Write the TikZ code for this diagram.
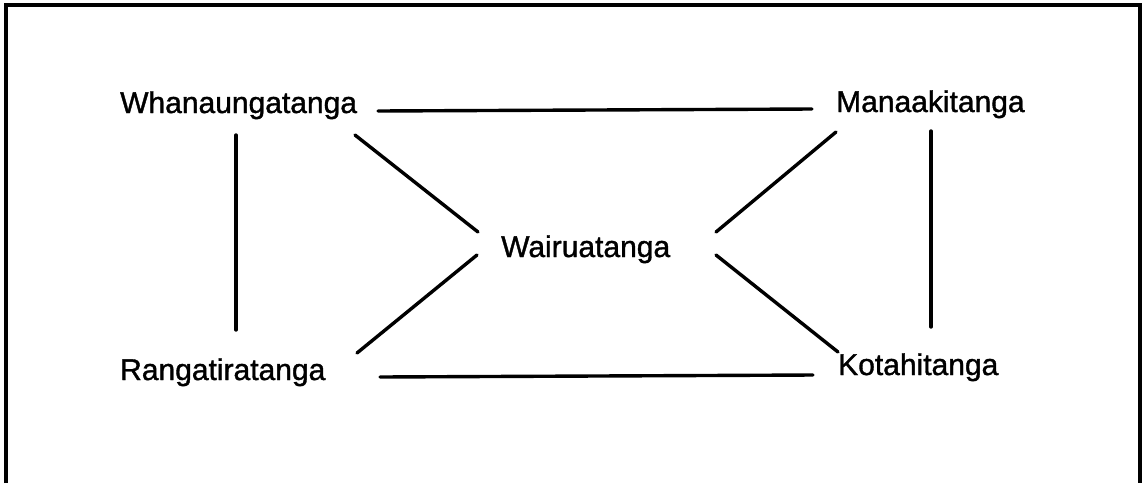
\documentclass[tikz,border=0pt]{standalone}
\usepackage{fontspec}
\setmainfont{Liberation Sans}
\newfontfamily\termfont[FakeBold=1.2]{Liberation Sans}
\begin{document}
\begin{tikzpicture}[x=1pt,y=-1pt,
  term/.style={font=\termfont\fontsize{30}{36}\selectfont, inner sep=0pt, anchor=base west},
  link/.style={line width=3.4pt, line cap=round},
  frame/.style={line width=3.2pt}]
\useasboundingbox (0,0) rectangle (1142,483);
% open frame: top edge and two sides
\draw[frame] (6,483) -- (6,5) -- (1140,5) -- (1140,483);

% the five values
\node[term] (wh) at (120,113) {Whanaungatanga};
\node[term] (ma) at (836,112) {Manaakitanga};
\node[term] (wa) at (501,257) {Wairuatanga};
\node[term] (ra) at (120,380) {Rangatiratanga};
\node[term] (ko) at (838,375) {Kotahitanga};

% connector end points
\coordinate (whE) at (378,111);
\coordinate (maW) at (812,109);
\coordinate (whS) at (236,135);
\coordinate (raN) at (236,330);
\coordinate (maS) at (931,131);
\coordinate (koN) at (931,327);
\coordinate (raE) at (380,377);
\coordinate (koW) at (813,375);
\coordinate (whSE) at (355,135);
\coordinate (waNW) at (478,232);
\coordinate (raNE) at (357,353);
\coordinate (waSW) at (477,255);
\coordinate (maSW) at (836,132);
\coordinate (waNE) at (716,232);
\coordinate (koNW) at (838,352);
\coordinate (waSE) at (716,255);

% outer square
\draw[link] (whE) -- (maW);
\draw[link] (whS) -- (raN);
\draw[link] (maS) -- (koN);
\draw[link] (raE) -- (koW);
% spokes to the centre
\draw[link] (whSE) -- (waNW);
\draw[link] (raNE) -- (waSW);
\draw[link] (maSW) -- (waNE);
\draw[link] (koNW) -- (waSE);
\end{tikzpicture}
\end{document}
